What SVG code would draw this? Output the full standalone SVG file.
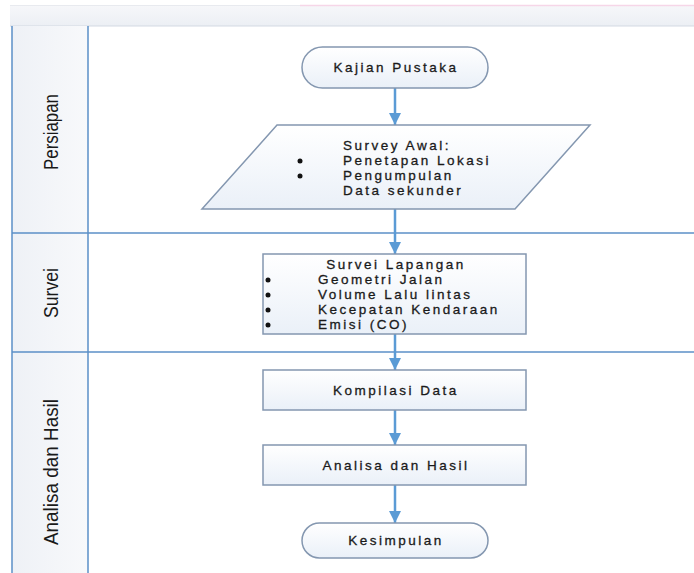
<svg xmlns="http://www.w3.org/2000/svg" width="694" height="573" viewBox="0 0 694 573">
<defs>
<linearGradient id="nodeFill" x1="0" y1="0" x2="0" y2="1">
<stop offset="0" stop-color="#ffffff"/>
<stop offset="1" stop-color="#eaf0f8"/>
</linearGradient>
<linearGradient id="hdrFill" x1="0" y1="0" x2="0" y2="1">
<stop offset="0" stop-color="#f6f7fa"/>
<stop offset="1" stop-color="#eceff4"/>
</linearGradient>
<linearGradient id="laneFill" x1="0" y1="0" x2="1" y2="0">
<stop offset="0" stop-color="#eef1f6"/>
<stop offset="1" stop-color="#f8f9fb"/>
</linearGradient>
<marker id="arr" viewBox="0 0 10 10" refX="10" refY="5" markerWidth="5" markerHeight="5" markerUnits="strokeWidth" orient="auto">
<path d="M0,0 L10,5 L0,10 z" fill="#5b9bd5"/>
</marker>
<style>
.node{fill:url(#nodeFill);stroke:#8497b0;stroke-width:1.5}
.t{font-family:"Liberation Sans",Arial,sans-serif;font-size:13.5px;letter-spacing:2.5px;fill:#1a1a1a;stroke:#1a1a1a;stroke-width:0.3}
.c{text-anchor:middle}
.lane{font-family:"Liberation Sans Narrow","Liberation Sans",Arial,sans-serif;font-size:21px;fill:#1a1a1a;text-anchor:middle}
.ll{stroke:#5b8fc7;stroke-width:1.5;fill:none}
.conn{stroke:#5b9bd5;stroke-width:2.5;fill:none;marker-end:url(#arr)}
.dot{fill:#111}
</style>
</defs>

<g id="header">
<rect x="10" y="5" width="684" height="21" fill="url(#hdrFill)"/>
<line x1="10" y1="5.5" x2="300" y2="5.5" stroke="#e8eaef" stroke-width="1"/>
<line x1="300" y1="5.5" x2="694" y2="5.5" stroke="#f6d6e8" stroke-width="1.5"/>
<line x1="10" y1="26" x2="694" y2="26" stroke="#d3d9e3" stroke-width="1"/>
</g>

<g id="lanes">
<rect x="12" y="26" width="76" height="547" fill="url(#laneFill)"/>
<line class="ll" x1="12" y1="26" x2="12" y2="573"/>
<line class="ll" x1="88" y1="26" x2="88" y2="573"/>
<line class="ll" x1="12" y1="233" x2="694" y2="233"/>
<line class="ll" x1="12" y1="352" x2="694" y2="352"/>
<text class="lane" transform="translate(58,132) rotate(-90)" textLength="76" lengthAdjust="spacingAndGlyphs">Persiapan</text>
<text class="lane" transform="translate(58,293) rotate(-90)" textLength="50" lengthAdjust="spacingAndGlyphs">Survei</text>
<text class="lane" transform="translate(58,472) rotate(-90)" textLength="146" lengthAdjust="spacingAndGlyphs">Analisa dan Hasil</text>
</g>

<g id="connectors">
<line class="conn" x1="395" y1="88" x2="395" y2="125"/>
<line class="conn" x1="395" y1="209" x2="395" y2="254"/>
<line class="conn" x1="395" y1="334" x2="395" y2="370"/>
<line class="conn" x1="395" y1="410" x2="395" y2="445"/>
<line class="conn" x1="395" y1="485" x2="395" y2="523"/>
</g>

<g id="kajian">
<rect class="node" x="302" y="47" width="186" height="41" rx="20.5"/>
<text class="t c" x="396" y="72">Kajian Pustaka</text>
</g>

<g id="survey-awal">
<path class="node" d="M277,125 L590,125 L515,209 L202,209 Z"/>
<text class="t c" x="397" y="150">Survey Awal:</text>
<circle class="dot" cx="300" cy="161" r="2.5"/>
<circle class="dot" cx="300" cy="176" r="2.5"/>
<text class="t" x="343" y="165">Penetapan Lokasi</text>
<text class="t" x="343" y="180">Pengumpulan</text>
<text class="t" x="343" y="195">Data sekunder</text>
</g>

<g id="survei-lapangan">
<rect class="node" x="263" y="254" width="263" height="80"/>
<text class="t c" x="396" y="269">Survei Lapangan</text>
<circle class="dot" cx="268" cy="280" r="2.5"/>
<circle class="dot" cx="268" cy="295" r="2.5"/>
<circle class="dot" cx="268" cy="310" r="2.5"/>
<circle class="dot" cx="268" cy="325" r="2.5"/>
<text class="t" x="318" y="284">Geometri Jalan</text>
<text class="t" x="318" y="299">Volume Lalu lintas</text>
<text class="t" x="318" y="314">Kecepatan Kendaraan</text>
<text class="t" x="318" y="329">Emisi (CO)</text>
</g>

<g id="kompilasi">
<rect class="node" x="263" y="370" width="263" height="40"/>
<text class="t c" x="396" y="395">Kompilasi Data</text>
</g>

<g id="analisa">
<rect class="node" x="263" y="445" width="263" height="40"/>
<text class="t c" x="396" y="470">Analisa dan Hasil</text>
</g>

<g id="kesimpulan">
<rect class="node" x="302" y="523" width="186" height="35" rx="17.5"/>
<text class="t c" x="396" y="545">Kesimpulan</text>
</g>
</svg>
